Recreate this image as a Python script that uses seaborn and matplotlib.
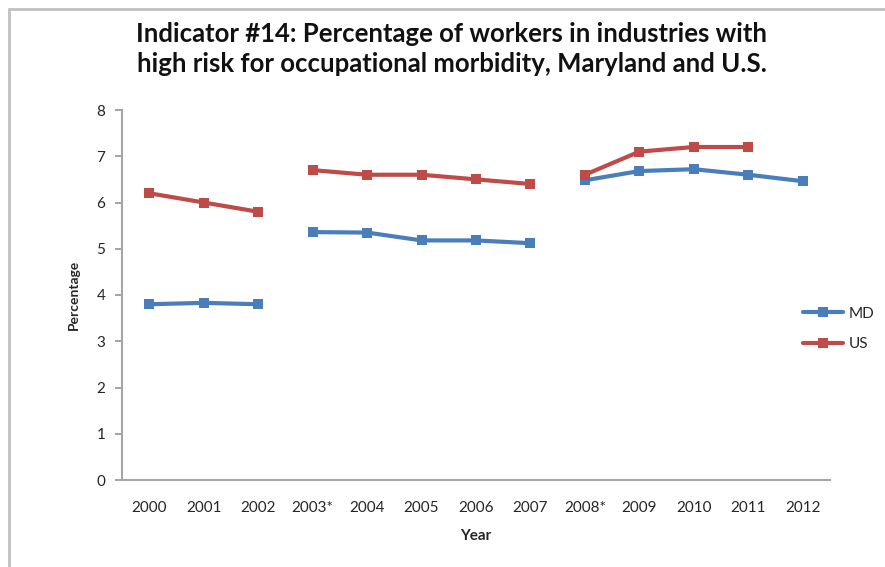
import matplotlib
matplotlib.use("Agg")
import matplotlib.pyplot as plt
import seaborn as sns
import pandas as pd
import numpy as np
from matplotlib.lines import Line2D

years = ["2000", "2001", "2002", "2003*", "2004", "2005", "2006", "2007",
         "2008*", "2009", "2010", "2011", "2012"]
segment = [0, 0, 0, 1, 1, 1, 1, 1, 2, 2, 2, 2, 2]
md = [3.80, 3.83, 3.80, 5.36, 5.35, 5.18, 5.18, 5.12, 6.48, 6.68, 6.72, 6.60, 6.46]
us = [6.20, 6.00, 5.80, 6.70, 6.60, 6.60, 6.50, 6.40, 6.60, 7.10, 7.20, 7.20, np.nan]

rows = []
for i, y in enumerate(years):
    rows.append(dict(pos=i, year=y, seg=segment[i], series="MD", value=md[i]))
    rows.append(dict(pos=i, year=y, seg=segment[i], series="US", value=us[i]))
df = pd.DataFrame(rows).dropna()

sns.set_theme(style="white")
plt.rcParams["font.family"] = ["Lato", "DejaVu Sans"]

colors = {"MD": "#4A7EBB", "US": "#BE4B48"}

fig = plt.figure(figsize=(8.85, 5.67), dpi=100)
ax = fig.add_axes([122 / 885, 1 - 480 / 567, (830 - 122) / 885, (480 - 110) / 567])

sns.lineplot(data=df, x="pos", y="value", hue="series", units="seg",
             estimator=None, palette=colors, marker="s", markersize=7,
             markeredgewidth=0, linewidth=3, ax=ax, legend=False, sort=True)

ax.set_xlim(-0.5, len(years) - 0.5)
ax.set_ylim(0, 8)
ax.set_yticks(range(0, 9))
ax.set_yticklabels([str(v) for v in range(0, 9)], fontsize=11)
ax.set_xticks(range(len(years)))
ax.set_xticklabels(years, fontsize=11)
ax.tick_params(axis="x", length=0, pad=15)
ax.set_xticks(np.arange(-0.5, len(years), 1.0), minor=True)
ax.tick_params(axis="x", which="minor", length=5, color="#999999", direction="out")
ax.tick_params(axis="y", length=5, color="#999999", direction="out", left=True, pad=7)

for side in ["top", "right"]:
    ax.spines[side].set_visible(False)
for side in ["left", "bottom"]:
    ax.spines[side].set_color("#a6a6a6")
    ax.spines[side].set_linewidth(1.5)

ax.set_xlabel("Year", fontsize=11, fontweight="bold", labelpad=10)
ax.set_ylabel("Percentage", fontsize=10, fontweight="bold", labelpad=12)
ax.grid(False)

handles = [Line2D([0], [0], color=colors[s], marker="s", markersize=7,
                  markeredgewidth=0, linewidth=3, label=s) for s in ["MD", "US"]]
fig.legend(handles=handles, loc="center left", bbox_to_anchor=(797 / 885, 1 - 329 / 567),
           frameon=False, fontsize=11, handlelength=2.6, handletextpad=0.4,
           labelspacing=1.1, borderaxespad=0)

fig.text(452 / 885, 1 - 49 / 567,
         "Indicator #14: Percentage of workers in industries with\n"
         "high risk for occupational morbidity, Maryland and U.S.",
         ha="center", va="center", fontsize=18.5, fontweight="bold",
         linespacing=1.3, color="#111111")

# outer chart frame
fig.add_artist(Line2D([9 / 885, 9 / 885], [0, 1 - 9 / 567], transform=fig.transFigure,
                      color="#c0c0c0", linewidth=2))
fig.add_artist(Line2D([9 / 885, 1], [1 - 9 / 567, 1 - 9 / 567], transform=fig.transFigure,
                      color="#c0c0c0", linewidth=2))

fig.savefig("out.png", dpi=100)
